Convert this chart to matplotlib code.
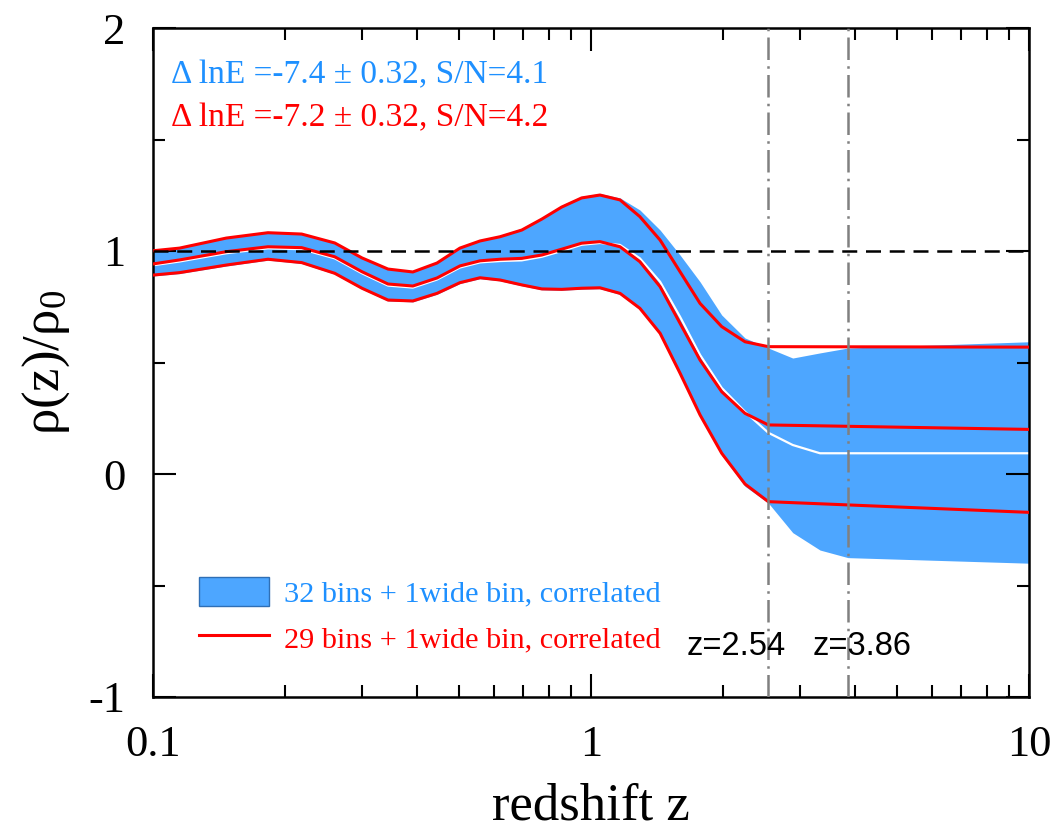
import numpy as np
import matplotlib
matplotlib.use('Agg')
import matplotlib.pyplot as plt
import matplotlib.ticker as ticker
from matplotlib.patches import Patch
from matplotlib.lines import Line2D

plt.rcParams['font.family'] = ['Liberation Serif', 'DejaVu Serif']
plt.rcParams['mathtext.fontset'] = 'custom'
plt.rcParams['mathtext.rm'] = 'Liberation Serif'
plt.rcParams['mathtext.it'] = 'Liberation Serif:italic'
plt.rcParams['axes.unicode_minus'] = False

BAND_COLOR = '#4da6ff'
BLUE_TEXT = '#1e90ff'
RED = '#ff0000'

# redshift nodes shared by both reconstructions (up to z=2.54)
z_common = [0.1, 0.115, 0.147, 0.183, 0.2185, 0.26, 0.30, 0.344, 0.392, 0.445,
            0.502, 0.558, 0.62, 0.695, 0.772, 0.857, 0.952, 1.048, 1.165, 1.293,
            1.438, 1.597, 1.774, 1.988, 2.247, 2.54]
z_red = z_common + [10.0]
z_blue = z_common + [2.888, 3.333, 3.86, 10.0]

# 29 bins + 1 wide bin (red)
red_upper = [1.001, 1.013, 1.058, 1.082, 1.076, 1.036, 0.969, 0.919, 0.906, 0.946,
             1.013, 1.045, 1.064, 1.094, 1.143, 1.197, 1.238, 1.251, 1.229, 1.154,
             1.049, 0.907, 0.765, 0.661, 0.593, 0.571, 0.569]
red_mid = [0.942, 0.960, 0.997, 1.019, 1.015, 0.974, 0.907, 0.852, 0.843, 0.879,
           0.933, 0.956, 0.963, 0.967, 0.982, 1.008, 1.035, 1.042, 1.019, 0.952,
           0.840, 0.676, 0.511, 0.369, 0.272, 0.220, 0.200]
red_low = [0.892, 0.903, 0.937, 0.963, 0.948, 0.900, 0.833, 0.780, 0.776, 0.810,
           0.858, 0.880, 0.870, 0.848, 0.830, 0.828, 0.833, 0.835, 0.810, 0.743,
           0.631, 0.452, 0.265, 0.093, -0.045, -0.124, -0.172]

# 32 bins + 1 wide bin (blue band)
blue_upper = [1.001, 1.014, 1.060, 1.084, 1.078, 1.038, 0.971, 0.921, 0.908, 0.950,
              1.017, 1.050, 1.070, 1.102, 1.150, 1.205, 1.245, 1.258, 1.238, 1.184,
              1.094, 0.982, 0.862, 0.713, 0.610, 0.565, 0.520, 0.543, 0.565, 0.593]
blue_mean = [0.936, 0.953, 0.990, 1.012, 1.008, 0.967, 0.900, 0.845, 0.836, 0.872,
             0.926, 0.949, 0.955, 0.958, 0.974, 1.000, 1.028, 1.036, 1.027, 0.967,
             0.862, 0.705, 0.534, 0.386, 0.279, 0.185, 0.130, 0.093, 0.093, 0.093]
blue_lower = [0.888, 0.899, 0.933, 0.959, 0.944, 0.896, 0.829, 0.776, 0.772, 0.806,
              0.854, 0.876, 0.866, 0.844, 0.826, 0.824, 0.829, 0.831, 0.805, 0.737,
              0.624, 0.444, 0.256, 0.084, -0.055, -0.130, -0.263, -0.341, -0.375, -0.400]

z_marks = [2.54, 3.86]
z_label_x = [1.655, 3.21]
evidence_lines = ['\u0394 lnE =-7.4 \u00b1 0.32, S/N=4.1',
                  '\u0394 lnE =-7.2 \u00b1 0.32, S/N=4.2']
legend_labels = ['32 bins + 1wide bin, correlated',
                 '29 bins + 1wide bin, correlated']

fig = plt.figure(figsize=(10.54, 8.32), dpi=100)
ax = fig.add_axes([153 / 1054, 1 - 697 / 832, 876 / 1054, 669 / 832])

ax.fill_between(z_blue, blue_lower, blue_upper, color=BAND_COLOR, lw=0, zorder=1)
ax.plot(z_blue, blue_mean, color='white', lw=1.6, zorder=2)
for yy in (red_upper, red_mid, red_low):
    ax.plot(z_red, yy, color=RED, lw=2.2, zorder=3)

ax.axhline(1.0, color='black', lw=1.8, dashes=(6, 3.5), zorder=4)
for zm, zx in zip(z_marks, z_label_x):
    ax.axvline(zm, color='#808080', lw=1.8, dashes=(9, 2.5, 1, 2.5), zorder=5)
    ax.text(zx, -0.772, f'z={zm:.2f}', family='Liberation Sans', fontsize=23.5,
            ha='left', va='center', zorder=6)

ax.text(0.021, 0.930, evidence_lines[0], transform=ax.transAxes, color=BLUE_TEXT,
        fontsize=24, ha='left', va='center')
ax.text(0.021, 0.865, evidence_lines[1], transform=ax.transAxes, color=RED,
        fontsize=24, ha='left', va='center')

handles = [Patch(facecolor=BAND_COLOR, edgecolor='#2f6fb5', lw=1.0),
           Line2D([], [], color=RED, lw=2.2)]
ax.legend(handles, legend_labels, loc='upper left', bbox_to_anchor=(0.0525, 0.180),
          frameon=False, fontsize=21.8, borderpad=0, borderaxespad=0,
          handlelength=2.3, handleheight=1.1, handletextpad=0.5, labelspacing=0.5,
          labelcolor=[BLUE_TEXT, RED])

ax.set_xscale('log')
ax.set_xlim(0.1, 10)
ax.set_ylim(-1, 2)
ax.xaxis.set_major_locator(ticker.FixedLocator([0.1, 1, 10]))
ax.xaxis.set_major_formatter(ticker.FixedFormatter(['0.1', '1', '10']))
ax.xaxis.set_minor_locator(ticker.LogLocator(base=10, subs=np.arange(2, 10)))
ax.xaxis.set_minor_formatter(ticker.NullFormatter())
ax.yaxis.set_major_locator(ticker.MultipleLocator(1))
ax.yaxis.set_minor_locator(ticker.MultipleLocator(0.5))

ax.tick_params(which='both', direction='in', top=True, right=True, width=1.5)
ax.tick_params(which='major', length=16.5, labelsize=32, pad=20)
ax.tick_params(which='minor', length=8.5)
for sp in ax.spines.values():
    sp.set_linewidth(1.8)

ax.set_xlabel('redshift z', fontsize=38)
ax.xaxis.set_label_coords(0.5, -0.128)
ax.set_ylabel('\u03c1(z)/\u03c1$_0$', fontsize=38)
ax.yaxis.set_label_coords(-0.0925, 0.5)

fig.savefig('out.png', dpi=100)
